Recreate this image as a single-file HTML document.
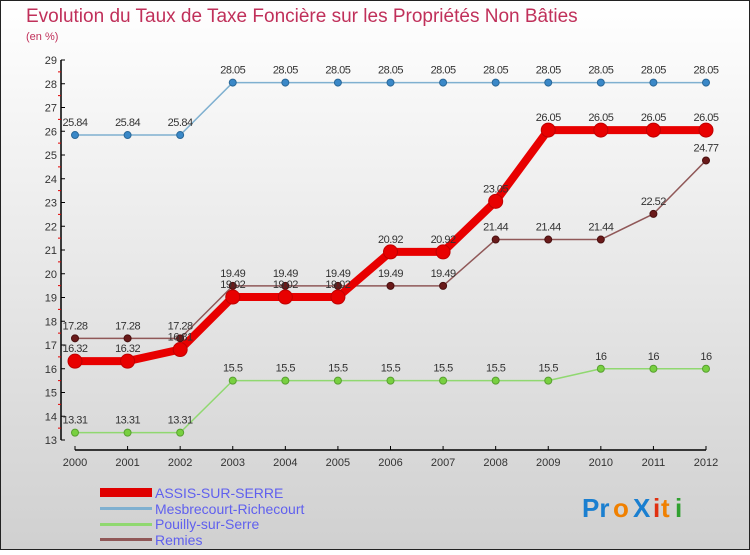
<!DOCTYPE html>
<html><head><meta charset="utf-8"><style>
html,body{margin:0;padding:0}
body{width:750px;height:550px;overflow:hidden;font-family:"Liberation Sans",sans-serif}
</style></head><body>
<svg id="chart" width="750" height="550" xmlns="http://www.w3.org/2000/svg">
<defs><linearGradient id="bg" x1="0" y1="0" x2="0" y2="1"><stop offset="0" stop-color="#ffffff"/><stop offset="1" stop-color="#d0d0d0"/></linearGradient></defs>
<rect x="0.5" y="0.5" width="749" height="549" fill="url(#bg)" stroke="#222" stroke-width="1"/>
<text x="26" y="22" font-size="19" fill="#c0305a">Evolution du Taux de Taxe Foncière sur les Propriétés Non Bâties</text>
<text x="26" y="40" font-size="11" fill="#c0305a">(en %)</text>
<g id="axes"></g>
<g id="series"></g>
<g id="legend">
<rect x="100" y="488" width="52" height="9" fill="#e00000"/>
<text x="155" y="498" font-size="14" fill="#6060ee">ASSIS-SUR-SERRE</text>
<rect x="100" y="507" width="52" height="3" fill="#7fb0d0"/>
<text x="155" y="514" font-size="14" fill="#6060ee">Mesbrecourt-Richecourt</text>
<rect x="100" y="523" width="52" height="3" fill="#90d870"/>
<text x="155" y="529" font-size="14" fill="#6060ee">Pouilly-sur-Serre</text>
<rect x="100" y="538" width="52" height="3" fill="#905858"/>
<text x="155" y="545" font-size="14" fill="#6060ee">Remies</text>
</g>
<g font-size="26" font-weight="bold">
<text x="582" y="517" fill="#1a7fd0">Pr</text><text x="613" y="517" fill="#f08000">o</text><text x="633" y="517" fill="#1a7fd0">X</text><text x="653" y="517" fill="#e03010">i</text><text x="661" y="517" fill="#f08000">t</text><text x="675" y="517" fill="#30a030">i</text>
</g>
</svg>
<script>
const years=[2000,2001,2002,2003,2004,2005,2006,2007,2008,2009,2010,2011,2012];
const yTicks=[13,14,15,16,17,18,19,20,21,22,23,24,25,26,27,28,29];
const assis=[16.32,16.32,16.81,19.02,19.02,19.02,20.92,20.92,23.05,26.05,26.05,26.05,26.05];
const mesbrecourt=[25.84,25.84,25.84,28.05,28.05,28.05,28.05,28.05,28.05,28.05,28.05,28.05,28.05];
const pouilly=[13.31,13.31,13.31,15.5,15.5,15.5,15.5,15.5,15.5,15.5,16,16,16];
const remies=[17.28,17.28,17.28,19.49,19.49,19.49,19.49,19.49,21.44,21.44,21.44,22.52,24.77];
const NS="http://www.w3.org/2000/svg";
const x=i=>75+i*(706-75)/(years.length-1);
const y=v=>440-(v-13)*(380/16);
function mk(t,a,p){const e=document.createElementNS(NS,t);for(const k in a)e.setAttribute(k,a[k]);p.appendChild(e);return e;}
const ax=document.getElementById('axes');
const yl=mk('line',{x1:61,y1:60,x2:61,y2:440,stroke:'#000','stroke-width':1.5},ax);


yTicks.forEach(v=>{
 mk('line',{x1:61,y1:y(v),x2:65,y2:y(v),stroke:'#000'},ax);
 if(v<29) mk('line',{x1:58,y1:y(v+0.5),x2:61,y2:y(v+0.5),stroke:'#e00000'},ax);
 const t=mk('text',{x:57,y:y(v)+4,'font-size':11,fill:'#333','text-anchor':'end'},ax);t.textContent=v;
 
 
});
const xl=mk('line',{x1:75,y1:450,x2:706,y2:450,stroke:'#000','stroke-width':1.5},ax);


years.forEach((yr,i)=>{
 mk('line',{x1:x(i),y1:446,x2:x(i),y2:450,stroke:'#000'},ax);
 const t=mk('text',{x:x(i),y:466,'font-size':11,fill:'#333','text-anchor':'middle'},ax);t.textContent=yr;
 
 
});
const sg=document.getElementById('series');
function series(name,vals,color,w,r,dot,dotStroke){
 const g=mk('g',{},sg);
 
 
 const pl=mk('polyline',{points:vals.map((v,i)=>x(i)+','+y(v)).join(' '),fill:'none',stroke:color,'stroke-width':w,'stroke-linejoin':'round'},g);
 
 
 vals.forEach((v,i)=>{
  const c=mk('circle',{cx:x(i),cy:y(v),r:r,fill:dot,stroke:dotStroke,'stroke-width':1},g);
  
  
  const t=mk('text',{x:x(i),y:y(v)-9,'font-size':11,fill:'#333','text-anchor':'middle','letter-spacing':'-0.5'},g);
  t.textContent=v;
  
  
 });
}
series('mesbrecourt',mesbrecourt,'#7fb0d0',1.5,3.5,'#3a88c8','#2a6898');
series('pouilly',pouilly,'#90d870',1.5,3.5,'#78d040','#58a030');
series('remies',remies,'#905858',1.5,3.5,'#6a1a1a','#4a1010');
series('assis',assis,'#e80000',8,7,'#e80000','#c00000');
</script>
</body></html>
